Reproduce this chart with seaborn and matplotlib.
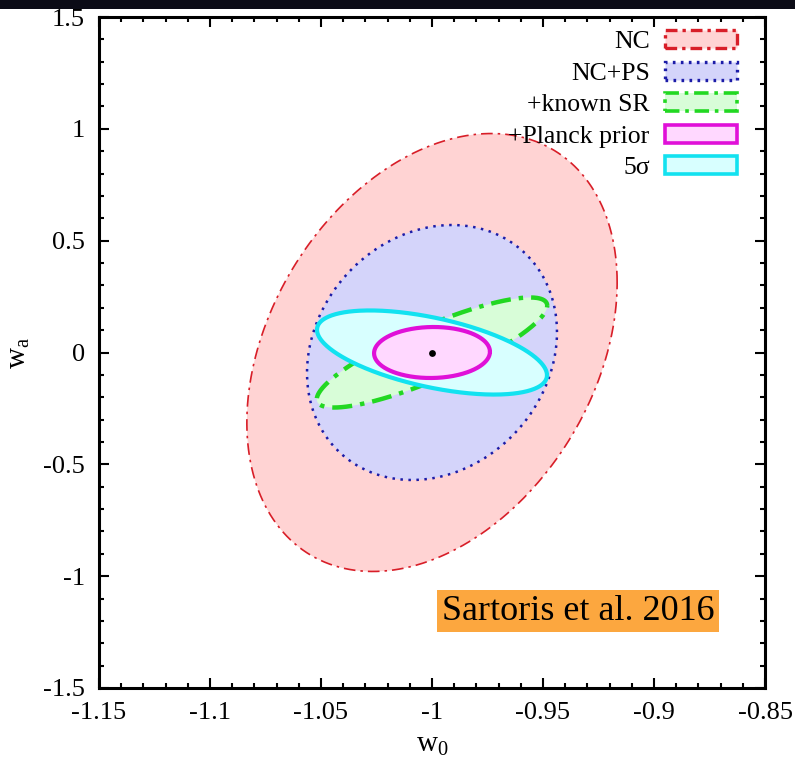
import numpy as np
import pandas as pd
import matplotlib
matplotlib.use("Agg")
import matplotlib.pyplot as plt
from matplotlib.patches import Patch, Rectangle
from matplotlib.ticker import MultipleLocator, FormatStrFormatter
import seaborn as sns

# Forecast contours in the (w0, wa) plane, each described by its
# marginal errors and the w0-wa correlation coefficient.
contours = ["NC", "NC+PS", "+known SR", "+Planck prior", "5σ"]
sigma_w0 = [0.0834, 0.0563, 0.0519, 0.0261, 0.0518]
sigma_wa = [0.979, 0.570, 0.246, 0.114, 0.188]
rho = [0.32, 0.16, 0.85, 0.03, -0.54]
fiducial_w0 = -1.0
fiducial_wa = 0.0

edge_colors = ["#d81e28", "#1c1ca8", "#22d822", "#e010d8", "#12e2f0"]
fill_colors = ["#ffd3d3", "#d4d4fa", "#d8fdd8", "#ffd8ff", "#d8ffff"]
line_widths = [1.2, 1.8, 3.2, 3.0, 3.0]
legend_widths = [2.4, 2.4, 2.6, 2.6, 2.6]
line_styles = [(0, (7, 3, 1.5, 3)), (0, (1, 2.2)), (0, (4.5, 1.8, 1, 1.8)), "solid", "solid"]
legend_styles = [(0, (3.5, 1.5, 1, 1.5)), (0, (0.8, 1.6)), (0, (4, 1.6, 1, 1.6)), "solid", "solid"]
draw_order = [0, 1, 2, 4, 3]

xticks = [-1.15, -1.1, -1.05, -1.0, -0.95, -0.9, -0.85]
yticks = [-1.5, -1.0, -0.5, 0.0, 0.5, 1.0, 1.5]

sns.set_theme(style="ticks")
plt.rcParams["font.family"] = ["Liberation Serif", "DejaVu Serif"]
plt.rcParams["mathtext.default"] = "regular"
plt.rcParams["axes.unicode_minus"] = False
plt.rcParams["text.color"] = "black"
plt.rcParams["axes.labelcolor"] = "black"
plt.rcParams["xtick.color"] = "black"
plt.rcParams["ytick.color"] = "black"

# Contour outlines as a long table
t = np.linspace(0.0, 2.0 * np.pi, 400)
rows = []
for name, sx, sy, r in zip(contours, sigma_w0, sigma_wa, rho):
    w0 = fiducial_w0 + sx * np.cos(t)
    wa = fiducial_wa + sy * (r * np.cos(t) + np.sqrt(1.0 - r * r) * np.sin(t))
    rows.append(pd.DataFrame({"contour": name, "w0": w0, "wa": wa, "t": t}))
df = pd.concat(rows, ignore_index=True)

fig = plt.figure(figsize=(7.95, 7.72), dpi=100)
ax = fig.add_axes([99 / 795, 84 / 772, 666 / 795, 671 / 772])

for k, i in enumerate(draw_order):
    sub = df[df["contour"] == contours[i]]
    ax.fill(sub["w0"], sub["wa"], color=fill_colors[i], lw=0, zorder=2 + 2 * k)
    sns.lineplot(data=sub, x="w0", y="wa", sort=False, estimator=None, ax=ax,
                 color=edge_colors[i], lw=line_widths[i], linestyle=line_styles[i],
                 zorder=3 + 2 * k)

sns.scatterplot(x=[fiducial_w0], y=[fiducial_wa], ax=ax, color="black", s=24,
                marker="o", linewidth=0, zorder=20)

ax.set_xlim(xticks[0], xticks[-1])
ax.set_ylim(yticks[0], yticks[-1])
ax.set_xticks(xticks)
ax.set_yticks(yticks)
ax.xaxis.set_major_formatter(FormatStrFormatter("%g"))
ax.yaxis.set_major_formatter(FormatStrFormatter("%g"))
ax.xaxis.set_minor_locator(MultipleLocator(0.01))
ax.yaxis.set_minor_locator(MultipleLocator(0.1))
ax.tick_params(which="both", direction="in", top=True, right=True, width=1.5,
               color="black")
ax.tick_params(which="major", length=7.5, labelsize=19, pad=10)
ax.tick_params(which="minor", length=3.5)
for side in ax.spines.values():
    side.set_linewidth(2.2)
    side.set_color("black")
    side.set_zorder(30)

ax.set_xlabel("w$_0$", fontsize=21, labelpad=6)
ax.set_ylabel("w$_a$", fontsize=21, labelpad=8)

handles = [Patch(facecolor=fill_colors[i], edgecolor=edge_colors[i],
                 linewidth=legend_widths[i], linestyle=legend_styles[i])
           for i in range(len(contours))]
leg = ax.legend(handles, contours, loc="upper right", bbox_to_anchor=(0.958, 0.980),
                frameon=False, markerfirst=False, fontsize=18.5, handlelength=2.8,
                handleheight=0.7, handletextpad=0.6, labelspacing=0.33,
                borderpad=0, borderaxespad=0)
leg.set_zorder(40)

fig.text(578 / 795, 1 - 611 / 772, "Sartoris et al. 2016", fontsize=26,
         ha="center", va="center", color="black", zorder=50,
         bbox=dict(boxstyle="square,pad=0.12", fc="#fca73f", ec="none"))

# dark banner strip along the top edge
fig.patches.append(Rectangle((0, 1 - 9 / 772), 1, 9 / 772, transform=fig.transFigure,
                             fc="#0b0b16", ec="none", zorder=60))

fig.savefig("out.png", dpi=100)
